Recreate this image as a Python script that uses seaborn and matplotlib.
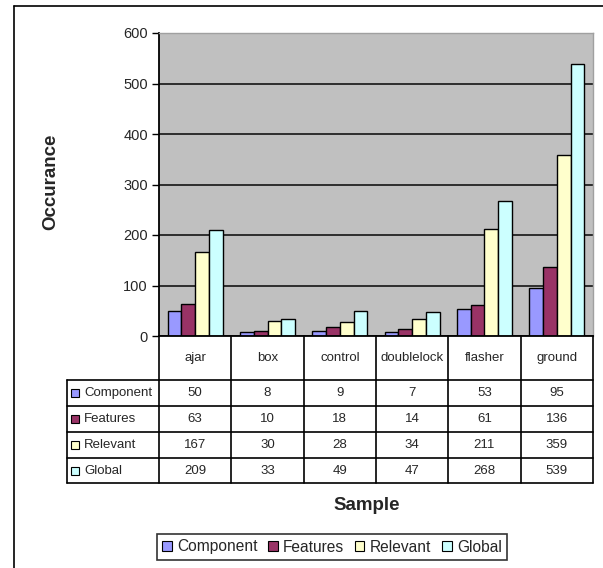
import matplotlib
matplotlib.use("Agg")
import matplotlib.pyplot as plt
from matplotlib.lines import Line2D
from matplotlib.patches import Rectangle
import seaborn as sns
import pandas as pd

categories = ["ajar", "box", "control", "doublelock", "flasher", "ground"]
series = ["Component", "Features", "Relevant", "Global"]
component = [50, 8, 9, 7, 53, 95]
features = [63, 10, 18, 14, 61, 136]
relevant = [167, 30, 28, 34, 211, 359]
global_ = [209, 33, 49, 47, 268, 539]
yticks = [0, 100, 200, 300, 400, 500, 600]
colors = ["#9999FF", "#993366", "#FFFFCC", "#CCFFFF"]

values = dict(zip(series, [component, features, relevant, global_]))
df = pd.DataFrame(
    [(c, s, values[s][i]) for s in series for i, c in enumerate(categories)],
    columns=["Sample", "Series", "Occurance"],
)

sns.set_style("white")
plt.rcParams["font.family"] = ["Liberation Sans", "DejaVu Sans"]

W, H = 603, 568
fig = plt.figure(figsize=(W / 100, H / 100), dpi=100)


def fx(px):
    return px / W


def fy(py):
    return 1 - py / H


# plot area in pixel coordinates
L, R, T, B = 159, 593, 33, 336
ax = fig.add_axes([fx(L), fy(B), fx(R) - fx(L), fy(T) - fy(B)])
sns.barplot(
    data=df, x="Sample", y="Occurance", hue="Series", hue_order=series,
    order=categories, palette=colors, edgecolor="black", linewidth=1.0,
    width=0.76, gap=0, ax=ax, legend=False, saturation=1,
)
ax.set_facecolor("#C0C0C0")
ax.set_ylim(0, 600)
ax.set_xlim(-0.5, len(categories) - 0.5)
ax.set_yticks(yticks)
ax.set_yticklabels([str(t) for t in yticks], fontsize=10.5)
ax.yaxis.grid(True, color="#222222", linewidth=1.3)
ax.set_axisbelow(True)
ax.set_xticks([])
ax.set_xlabel("")
ax.set_ylabel("")
ax.tick_params(axis="y", length=5, width=1, color="black", pad=3, left=True)
for side in ["top", "right"]:
    ax.spines[side].set_visible(True)
    ax.spines[side].set_color("#A0A0A0")
    ax.spines[side].set_linewidth(1)
ax.spines["left"].set_color("black")
ax.spines["left"].set_linewidth(1.3)
ax.spines["bottom"].set_color("black")
ax.spines["bottom"].set_linewidth(1.3)

# data table below the plot area
col_edges = [L + (R - L) * i / len(categories) for i in range(len(categories) + 1)]
row_edges = [B, 380, 406, 432, 458, 483]
label_left = 67
lw = 1.2


def hline(x0, x1, y):
    fig.add_artist(Line2D([fx(x0), fx(x1)], [fy(y), fy(y)], color="black", lw=lw))


def vline(x, y0, y1):
    fig.add_artist(Line2D([fx(x), fx(x)], [fy(y0), fy(y1)], color="black", lw=lw))


for y in row_edges[1:]:
    hline(label_left, R, y)
for x in col_edges:
    vline(x, B, row_edges[-1])
vline(label_left, row_edges[1], row_edges[-1])

for i, c in enumerate(categories):
    cx = (col_edges[i] + col_edges[i + 1]) / 2
    fig.text(fx(cx), fy((row_edges[0] + row_edges[1]) / 2), c,
             ha="center", va="center", fontsize=9.5)

for r, s in enumerate(series):
    y0, y1 = row_edges[r + 1], row_edges[r + 2]
    cy = (y0 + y1) / 2
    fig.add_artist(Rectangle((fx(71), fy(cy + 4)), fx(8), fy(0) - fy(8),
                             facecolor=colors[r], edgecolor="black", lw=0.8,
                             transform=fig.transFigure))
    fig.text(fx(84), fy(cy), s, ha="left", va="center", fontsize=9.5)
    for i, v in enumerate(values[s]):
        cx = (col_edges[i] + col_edges[i + 1]) / 2
        fig.text(fx(cx), fy(cy), str(v), ha="center", va="center", fontsize=9.5)

# axis titles
fig.text(fx(367), fy(505), "Sample", ha="center", va="center",
         fontsize=13.5, fontweight="bold")
fig.text(fx(51), fy(182), "Occurance", ha="center", va="center",
         fontsize=13.5, fontweight="bold", rotation=90)

# legend
handles = [Rectangle((0, 0), 1, 1, facecolor=c, edgecolor="black", lw=0.8)
           for c in colors]
leg = fig.legend(handles, series, loc="center", ncol=4,
                 bbox_to_anchor=(fx(332), fy(547)), frameon=True,
                 fancybox=False, edgecolor="black", fontsize=11.2,
                 handlelength=0.6, handleheight=0.6, handletextpad=0.35,
                 columnspacing=0.7, borderpad=0.35, borderaxespad=0)
leg.get_frame().set_linewidth(1.2)

# outer chart border
fig.add_artist(Line2D([fx(14), fx(14)], [fy(6), fy(568)], color="black", lw=1.2))
fig.add_artist(Line2D([fx(14), fx(603)], [fy(6), fy(6)], color="black", lw=1.2))

fig.savefig("out.png", dpi=100, facecolor="white")
